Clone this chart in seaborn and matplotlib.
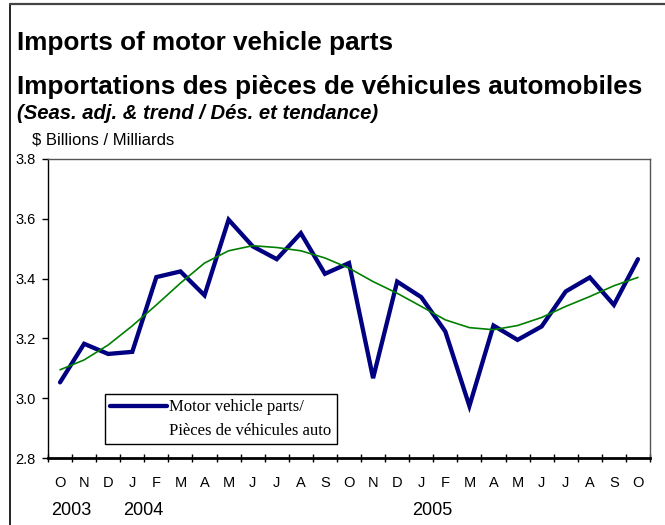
import numpy as np
import pandas as pd
import seaborn as sns
import matplotlib.pyplot as plt
from matplotlib.lines import Line2D
from matplotlib.transforms import blended_transform_factory

# ─── DATA ──────────────────────────────────────
months = ["O", "N", "D", "J", "F", "M", "A", "M", "J", "J", "A", "S",
          "O", "N", "D", "J", "F", "M", "A", "M", "J", "J", "A", "S", "O"]
years = {0: "2003", 3: "2004", 15: "2005"}

parts = [3.053, 3.182, 3.148, 3.155, 3.405, 3.424, 3.344, 3.597, 3.508,
         3.465, 3.552, 3.416, 3.452, 3.067, 3.390, 3.338, 3.223, 2.974,
         3.243, 3.195, 3.240, 3.357, 3.404, 3.312, 3.465]
trend = [3.095, 3.128, 3.178, 3.242, 3.312, 3.385, 3.452, 3.493, 3.510,
         3.504, 3.493, 3.469, 3.435, 3.390, 3.351, 3.307, 3.262, 3.236,
         3.229, 3.243, 3.270, 3.307, 3.340, 3.376, 3.404]

df = pd.DataFrame({"idx": np.arange(len(months)), "parts": parts, "trend": trend})

# ─── STYLE ─────────────────────────────────────
sns.set_style("white")
plt.rcParams["font.family"] = ["Liberation Sans", "DejaVu Sans"]
plt.rcParams["text.color"] = "black"
plt.rcParams["xtick.color"] = "black"
plt.rcParams["ytick.color"] = "black"

fig = plt.figure(figsize=(6.65, 5.25), dpi=100)
ax = fig.add_axes([48 / 665, 1 - 458 / 525, 602 / 665, 299 / 525])

sns.lineplot(data=df, x="idx", y="parts", ax=ax, color="#000080",
             linewidth=3.1, solid_joinstyle="miter")
sns.lineplot(data=df, x="idx", y="trend", ax=ax, color="#008000",
             linewidth=1.2)

# ─── AXES ──────────────────────────────────────
ax.set_xlim(-0.5, len(months) - 0.5)
ax.set_ylim(2.8, 3.8)
ax.set_xlabel("")
ax.set_ylabel("")

ax.set_yticks(np.arange(2.8, 3.81, 0.2))
ax.set_yticklabels([f"{v:.1f}" for v in np.arange(2.8, 3.81, 0.2)])
ax.tick_params(axis="y", which="major", left=True, length=4, width=1,
               direction="out", pad=5, labelsize=10.5)

# category boundaries get the tick marks, month letters sit in between
ax.set_xticks(np.arange(-0.5, len(months), 1.0))
ax.set_xticklabels([])
ax.tick_params(axis="x", which="major", bottom=True, length=6, width=1,
               direction="inout")
ax.set_xticks(np.arange(len(months)), minor=True)
ax.set_xticklabels(months, minor=True)
ax.tick_params(axis="x", which="minor", length=0, pad=13, labelsize=10.5)

for side in ["top", "right"]:
    ax.spines[side].set_color("#555555")
    ax.spines[side].set_linewidth(1)
ax.spines["left"].set_color("black")
ax.spines["left"].set_linewidth(1)
ax.spines["bottom"].set_color("black")
ax.spines["bottom"].set_linewidth(2)

trans = blended_transform_factory(ax.transData, ax.transAxes)
for i, y in years.items():
    ax.text(i - 0.37, -0.174, y, transform=trans, ha="left", va="center",
            fontsize=13)

# ─── LEGEND ────────────────────────────────────
# second row has an empty handle so the blue line sits beside the first line
handles = [Line2D([], [], color="#000080", linewidth=3.1),
           Line2D([], [], linestyle="none")]
labels = ["Motor vehicle parts/", "Pièces de véhicules auto"]
leg = ax.legend(handles, labels,
                loc="lower left", bbox_to_anchor=(0.095, 0.047),
                frameon=True, fancybox=False, framealpha=1,
                edgecolor="black", handlelength=3.4, handletextpad=0.15,
                borderpad=0.3, borderaxespad=0, labelspacing=0.45,
                prop={"family": "Liberation Serif", "size": 12})
leg.get_frame().set_linewidth(1)

# ─── TITLES ────────────────────────────────────
fig.text(17 / 665, 1 - 50 / 525, "Imports of motor vehicle parts",
         fontsize=18.8, fontweight="bold", va="baseline")
fig.text(17 / 665, 1 - 94 / 525,
         "Importations des pièces de véhicules automobiles",
         fontsize=18.8, fontweight="bold", va="baseline")
fig.text(17 / 665, 1 - 119 / 525,
         "(Seas. adj. & trend / Dés. et tendance)",
         fontsize=14.6, fontweight="bold", fontstyle="italic", va="baseline")
fig.text(32 / 665, 1 - 145 / 525, "$ Billions / Milliards",
         fontsize=12, va="baseline")

# figure frame (left and top edges)
fig.add_artist(Line2D([10 / 665, 10 / 665], [0, 1 - 4 / 525],
                      transform=fig.transFigure, color="black", linewidth=1.2))
fig.add_artist(Line2D([10 / 665, 1], [1 - 4 / 525, 1 - 4 / 525],
                      transform=fig.transFigure, color="#444444", linewidth=1.6))

fig.savefig("out.png", dpi=100)
